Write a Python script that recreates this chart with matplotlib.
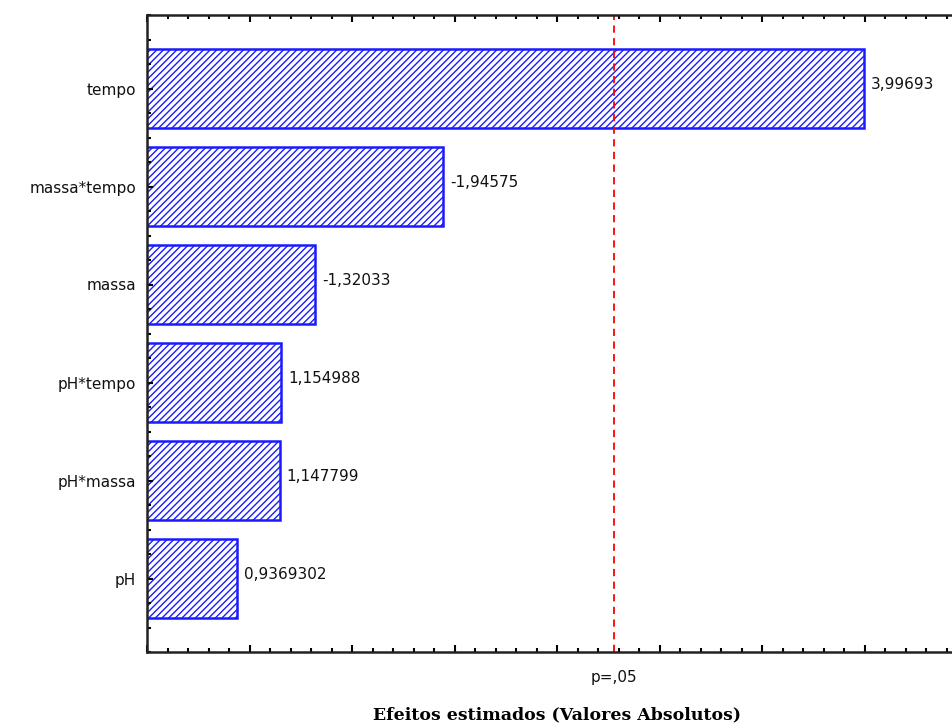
import numpy as np
import matplotlib.pyplot as plt
from matplotlib.ticker import MultipleLocator

# Pareto chart of standardized effects
termos = ['pH', 'pH*massa', 'pH*tempo', 'massa', 'massa*tempo', 'tempo']
efeitos = [0.9369302, 1.147799, 1.154988, -1.32033, -1.94575, 3.99693]
rotulos = ['0,9369302', '1,147799', '1,154988', '-1,32033', '-1,94575', '3,99693']
p_critico = 2.776

plt.rcParams['hatch.color'] = '#1a1aff'
plt.rcParams['hatch.linewidth'] = 1.0

fig = plt.figure(figsize=(9.52, 7.27), dpi=100)
ax = fig.add_axes([147 / 952, 75 / 727, 820 / 952, 637 / 727])

y = np.arange(len(termos))
ax.barh(y, np.abs(efeitos), height=0.8, left=0, color='white',
        edgecolor='#1a1aff', linewidth=1.8, hatch='/////')

for yi, v, txt in zip(y, np.abs(efeitos), rotulos):
    ax.annotate(txt, (v, yi), xytext=(5, 3), textcoords='offset points',
                ha='left', va='center', fontsize=11, color='#111111')

ax.axvline(p_critico, color='red', linestyle='--', linewidth=1.3, dashes=(4, 3))

ax.set_xlim(0.5, 4.5)
ax.set_ylim(-0.75, 5.75)
ax.set_yticks(y)
ax.set_yticklabels(termos, fontsize=11, color='#111111')
ax.yaxis.set_minor_locator(MultipleLocator(0.25))
ax.set_xticks(np.arange(0.5, 4.6, 0.5))
ax.xaxis.set_minor_locator(MultipleLocator(0.1))
ax.set_xticklabels([])

ax.tick_params(axis='both', which='both', direction='in', top=True, color='black')
ax.tick_params(axis='x', which='major', length=5, width=1.5)
ax.tick_params(axis='x', which='minor', length=3, width=1.5)
ax.tick_params(axis='y', which='major', length=4, width=1.5, pad=8)
ax.tick_params(axis='y', which='minor', length=3, width=1.5)
for s in ax.spines.values():
    s.set_linewidth(1.8)
    s.set_color('#222222')

ax.text(p_critico, -0.028, 'p=,05', transform=ax.get_xaxis_transform(),
        ha='center', va='top', fontsize=11, color='#111111')
ax.set_xlabel('Efeitos estimados (Valores Absolutos)', fontsize=12.5,
              family='DejaVu Serif', fontweight='bold', labelpad=36)

fig.savefig('out.png', dpi=100)
